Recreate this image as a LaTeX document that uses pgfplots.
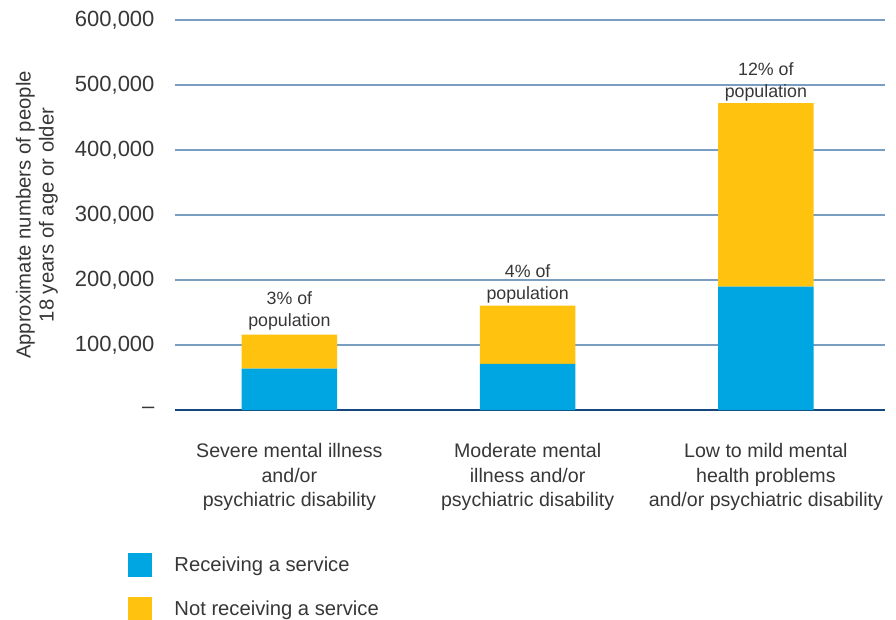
\documentclass[border=0pt]{standalone}
\usepackage{fontspec}
\setmainfont{Liberation Sans}
\usepackage{pgfplots}
\pgfplotsset{compat=1.18}
\definecolor{recv}{RGB}{0,166,226}
\definecolor{notrecv}{RGB}{255,194,14}
\definecolor{gridc}{RGB}{122,158,193}
\definecolor{basec}{RGB}{20,72,122}
\definecolor{txt}{RGB}{55,55,55}
\begin{document}
\begin{tikzpicture}
\useasboundingbox (-175bp,-210bp) rectangle (721bp,410bp);
\begin{axis}[
  at={(0,0)}, anchor=south west,
  scale only axis, width=710bp, height=390bp,
  ybar stacked, bar width=0.4,
  xmin=-0.48, xmax=2.5, ymin=0, ymax=600000,
  enlargelimits=false,
  axis x line*=bottom, axis y line*=left,
  y axis line style={draw=none},
  x axis line style={draw=basec, line width=2.6bp},
  major tick length=0,
  ymajorgrids, grid style={draw=gridc, line width=1.2bp},
  scaled y ticks=false,
  ytick={0,100000,200000,300000,400000,500000,600000},
  yticklabels={--,{100,000},{200,000},{300,000},{400,000},{500,000},{600,000}},
  yticklabel style={font=\fontsize{22bp}{26bp}\selectfont, text=txt, xshift=-17bp},
  xtick={0,1,2},
  xticklabels={{Severe mental illness\\and/or\\psychiatric disability},
               {Moderate mental\\illness and/or\\psychiatric disability},
               {Low to mild mental\\health problems\\and/or psychiatric disability}},
  xticklabel style={align=center, font=\fontsize{19.6bp}{24.5bp}\selectfont, text=txt, yshift=-30bp},
  ylabel={Approximate numbers of people\\18 years of age or older},
  ylabel style={align=center, font=\fontsize{20.3bp}{23bp}\selectfont, text=txt, at={(axis description cs:-0.1945,0.5)}, anchor=center},
  legend style={at={(axis description cs:-0.07,-0.36)}, anchor=north west, draw=none, fill=none,
    font=\fontsize{20.2bp}{23bp}\selectfont, text=txt, row sep=20bp,
    nodes={inner sep=0pt, text depth=0pt}},
  legend cell align=left,
  legend image code/.code={\fill[#1] (0bp,-12bp) rectangle (24bp,12bp);},
]
\addplot+[fill=recv, draw=none] coordinates {(0,63500) (1,71000) (2,190000)};
\addlegendentry{\hspace{22bp}Receiving a service}
\addplot+[fill=notrecv, draw=none] coordinates {(0,52500) (1,89700) (2,282000)};
\addlegendentry{\hspace{22bp}Not receiving a service}
\end{axis}
\begin{axis}[
  at={(0,0)}, anchor=south west,
  scale only axis, width=710bp, height=390bp,
  xmin=-0.48, xmax=2.5, ymin=0, ymax=600000,
  enlargelimits=false, hide axis, clip=false,
]
\node[align=center, font=\fontsize{17.8bp}{22bp}\selectfont, text=txt, anchor=south, inner sep=0pt] at (axis cs:0,122000) {3\% of\\population};
\node[align=center, font=\fontsize{17.8bp}{22bp}\selectfont, text=txt, anchor=south, inner sep=0pt] at (axis cs:1,164000) {4\% of\\population};
\node[align=center, font=\fontsize{17.8bp}{22bp}\selectfont, text=txt, anchor=south, inner sep=0pt] at (axis cs:2,475000) {12\% of\\population};
\end{axis}
\end{tikzpicture}
\end{document}
